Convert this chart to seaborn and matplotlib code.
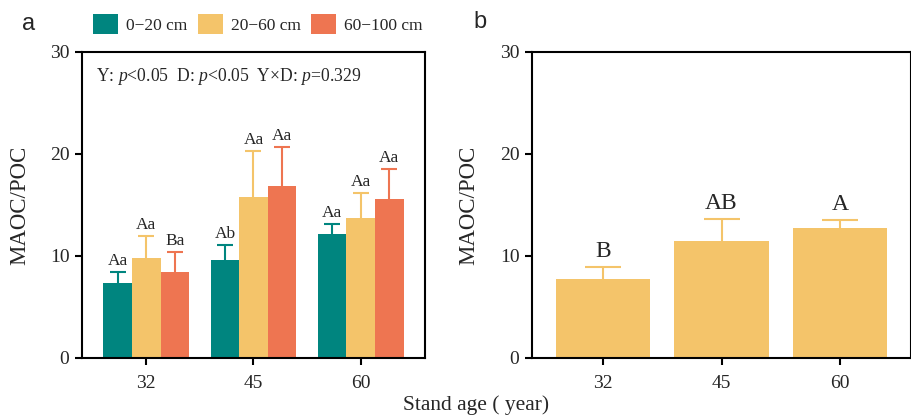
import numpy as np
import pandas as pd
import matplotlib
matplotlib.use("Agg")
import matplotlib.pyplot as plt
import seaborn as sns
from matplotlib.patches import Patch

ages = ["32", "45", "60"]
depths = ["0\u221220 cm", "20\u221260 cm", "60\u2212100 cm"]
# panel a: mean and upper SE per depth (rows) x age (cols)
means_a = [[7.4, 9.6, 12.2],
           [9.8, 15.8, 13.7],
           [8.4, 16.9, 15.6]]
errs_a = [[1.05, 1.45, 0.95],
          [2.2, 4.5, 2.5],
          [1.95, 3.8, 2.95]]
letters_a = [["Aa", "Ab", "Aa"],
             ["Aa", "Aa", "Aa"],
             ["Ba", "Aa", "Aa"]]
means_b = [7.7, 11.5, 12.7]
errs_b = [1.2, 2.1, 0.85]
letters_b = ["B", "AB", "A"]
stats_text = r"Y: $\it{p}$<0.05  D: $\it{p}$<0.05  Y×D: $\it{p}$=0.329"

colors = ["#00857F", "#F4C46A", "#EE7551"]

sns.set_theme(style="ticks")
plt.rcParams["font.family"] = ["Liberation Serif", "DejaVu Serif"]
plt.rcParams["mathtext.fontset"] = "custom"
plt.rcParams["mathtext.rm"] = "Liberation Serif"
plt.rcParams["mathtext.it"] = "Liberation Serif:italic"

fig = plt.figure(figsize=(9.12, 4.18), dpi=100)
W, H = 912, 418
ax1 = fig.add_axes([82 / W, 1 - 358 / H, (425 - 82) / W, (358 - 52) / H])
ax2 = fig.add_axes([532 / W, 1 - 358 / H, (911 - 532) / W, (358 - 52) / H])


def upper_errorbar(ax, xc, h, e, color, capsize):
    eb = ax.errorbar([xc], [h], yerr=[[0], [e]], fmt="none", ecolor=color,
                     elinewidth=1.5, capsize=capsize, capthick=1.5, zorder=1)
    for cl in eb.lines[1]:
        if np.isclose(cl.get_ydata()[0], h):
            cl.set_visible(False)


rows = []
for d, dep in enumerate(depths):
    for a, age in enumerate(ages):
        rows.append({"age": age, "depth": dep, "val": means_a[d][a]})
df_a = pd.DataFrame(rows)

sns.barplot(data=df_a, x="age", y="val", hue="depth", order=ages, hue_order=depths,
            palette=colors, errorbar=None, width=0.8, saturation=1, ax=ax1,
            legend=False, linewidth=0)
bar_conts = list(ax1.containers)
for d, cont in enumerate(bar_conts):
    for a, bar in enumerate(cont):
        bar.set_zorder(2)
        xc = bar.get_x() + bar.get_width() / 2
        h = bar.get_height()
        upper_errorbar(ax1, xc, h, errs_a[d][a], colors[d], 6)
        ax1.text(xc, h + errs_a[d][a] + 0.3, letters_a[d][a], ha="center",
                 va="bottom", fontsize=12.5)

df_b = pd.DataFrame({"age": ages, "val": means_b})
sns.barplot(data=df_b, x="age", y="val", order=ages, color=colors[1],
            errorbar=None, width=0.8, saturation=1, ax=ax2, linewidth=0)
bars_b = list(ax2.containers[0])
for a, bar in enumerate(bars_b):
    bar.set_zorder(2)
    xc = bar.get_x() + bar.get_width() / 2
    h = bar.get_height()
    upper_errorbar(ax2, xc, h, errs_b[a], colors[1], 13)
    ax2.text(xc, h + errs_b[a] + 0.5, letters_b[a], ha="center", va="bottom",
             fontsize=17)

for ax, lx in ((ax1, -0.15), (ax2, -0.138)):
    ax.set_ylim(0, 30)
    ax.set_xlim(-0.6, 2.6)
    ax.set_yticks([0, 10, 20, 30])
    ax.set_xlabel("")
    ax.set_ylabel("MAOC/POC", fontsize=16.5)
    ax.yaxis.set_label_coords(lx, 0.5)
    for s in ax.spines.values():
        s.set_visible(True)
        s.set_color("black")
        s.set_linewidth(1.5)
        s.set_zorder(5)
    ax.tick_params(axis="both", direction="out", length=5, width=1.5,
                   labelsize=14, color="black", pad=4)
    ax.tick_params(axis="x", pad=7)

ax1.text(0.04, 0.955, stats_text, transform=ax1.transAxes, ha="left", va="top",
         fontsize=12.7)

handles = [Patch(facecolor=c, edgecolor="none", label=l) for c, l in zip(colors, depths)]
fig.legend(handles=handles, loc="center left", bbox_to_anchor=(93 / W, 1 - 24 / H),
           ncol=3, frameon=False, fontsize=12.5, handlelength=1.45, handleheight=1.45,
           handletextpad=0.45, columnspacing=0.6, borderaxespad=0, borderpad=0)

fig.text(22 / W, 1 - 24 / H, "a", fontsize=17, family="Liberation Sans", ha="left", va="center")
fig.text(473 / W, 1 - 22 / H, "b", fontsize=17, family="Liberation Sans", ha="left", va="center")
fig.text(476 / W, 1 - 405 / H, "Stand age ( year)", fontsize=15.4, ha="center", va="center")

fig.savefig("out.png", dpi=100)
